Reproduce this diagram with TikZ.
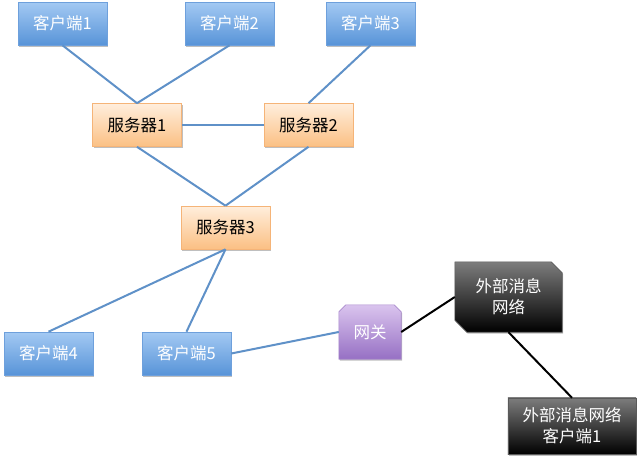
\documentclass[tikz,border=0pt]{standalone}
\usepackage{fontspec}
\setmainfont{Noto Sans CJK SC}
\usetikzlibrary{shadows,calc,backgrounds}
\definecolor{bluetop}{RGB}{163,201,243}
\definecolor{bluebot}{RGB}{88,148,216}
\definecolor{blueedge}{RGB}{110,160,220}
\definecolor{orgtop}{RGB}{255,238,220}
\definecolor{orgbot}{RGB}{251,192,132}
\definecolor{orgedge}{RGB}{245,180,120}
\definecolor{purtop}{RGB}{218,196,238}
\definecolor{purbot}{RGB}{150,112,196}
\definecolor{puredge}{RGB}{170,140,205}
\definecolor{blktop}{RGB}{125,125,125}
\definecolor{blkbot}{RGB}{0,0,0}
\definecolor{blkedge}{RGB}{90,90,90}
\definecolor{linkblue}{RGB}{95,145,200}
\begin{document}
\begin{tikzpicture}[x=1pt,y=-1pt,
  shad/.style={drop shadow={shadow xshift=1pt,shadow yshift=-1.5pt,opacity=0.25,fill=black}},
  box/.style={minimum width=89pt,minimum height=43pt,inner sep=0pt,font=\fontsize{16.5}{20}\selectfont,shad},
  client/.style={box,top color=bluetop,bottom color=bluebot,draw=blueedge,line width=0.6pt,text=white},
  server/.style={box,top color=orgtop,bottom color=orgbot,draw=orgedge,line width=0.6pt,text=black},
  txtnode/.style={inner sep=0pt,text=white,font=\fontsize{16.5}{21}\selectfont,align=center},
  gwshape/.style={top color=purtop,bottom color=purbot,draw=puredge,line width=0.6pt,shad},
  blkshape/.style={top color=blktop,bottom color=blkbot,draw=blkedge,line width=0.6pt,shad},
  bluelink/.style={draw=linkblue,line width=2pt},
  blacklink/.style={draw=black,line width=2pt}]
\useasboundingbox (0,0) rectangle (640,461);

\node[client] (c1) at (62.5,23.5) {客户端1};
\node[client] (c2) at (229.5,23.5) {客户端2};
\node[client] (c3) at (370.5,23.5) {客户端3};
\node[server] (s1) at (137,125) {服务器1};
\node[server] (s2) at (308.5,125) {服务器2};
\node[server] (s3) at (225.5,227.5) {服务器3};
\node[client] (c4) at (48.5,353.5) {客户端4};
\node[client] (c5) at (186.5,353.5) {客户端5};

\node[txtnode,minimum width=62pt,minimum height=54pt] (gw) at (370,332) {网关};
\node[txtnode,minimum width=107pt,minimum height=70pt] (en) at (508.5,297) {外部消息\\网络};
\node[txtnode,minimum width=128pt,minimum height=56pt] (ec) at (572,426) {外部消息网络\\客户端1};

\begin{scope}[on background layer]
\path[gwshape] (gw.south west) -- ($(gw.north west)+(0,7)$) -- ($(gw.north west)+(7,0)$)
  -- ($(gw.north east)+(-7,0)$) -- ($(gw.north east)+(0,7)$) -- (gw.south east) -- cycle;
\path[blkshape] (en.north west) -- ($(en.north east)+(-11,0)$) -- ($(en.north east)+(0,11)$)
  -- (en.south east) -- ($(en.south west)+(12,0)$) -- ($(en.south west)+(0,-12)$) -- cycle;
\path[blkshape] (ec.north west) rectangle (ec.south east);
\end{scope}

\draw[bluelink] (c1.south) -- (s1.north);
\draw[bluelink] (c2.south) -- (s1.north);
\draw[bluelink] (c3.south) -- (s2.north);
\draw[bluelink] (s1.east) -- (s2.west);
\draw[bluelink] (s1.south) -- (s3.north);
\draw[bluelink] (s2.south) -- (s3.north);
\draw[bluelink] (s3.south) -- (c4.north);
\draw[bluelink] (s3.south) -- (c5.north);
\draw[bluelink] (c5.east) -- (gw.west);
\draw[blacklink] (gw.east) -- (en.west);
\draw[blacklink] (en.south) -- (ec.north);
\end{tikzpicture}
\end{document}
